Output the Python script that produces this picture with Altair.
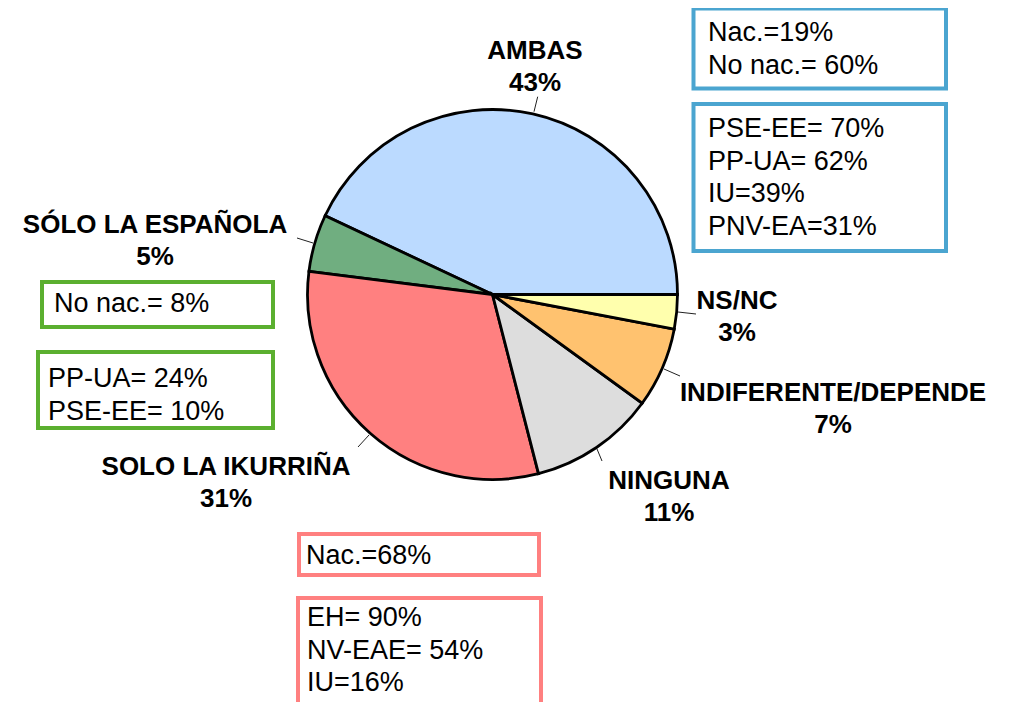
import math
import altair as alt
import pandas as pd

# ---- data ----
categories = ["AMBAS", "SÓLO LA ESPAÑOLA", "SOLO LA IKURRIÑA", "NINGUNA",
              "INDIFERENTE/DEPENDE", "NS/NC"]
values = [43, 5, 31, 11, 7, 3]
# clockwise order starting at 3 o'clock
clock_order = [5, 4, 3, 2, 1, 0]
colors = ["#BBDAFF", "#70AE80", "#FF8080", "#DDDDDD", "#FFC26F", "#FFFFAD"]

box_texts = [
    "Nac.=19%\nNo nac.= 60%",
    "PSE-EE= 70%\nPP-UA= 62%\nIU=39%\nPNV-EA=31%",
    "No nac.= 8%",
    "PP-UA= 24%\nPSE-EE= 10%",
    "Nac.=68%",
    "EH= 90%\nNV-EAE= 54%\nIU=16%",
]
box_colors = ["#4BA5D0", "#4BA5D0", "#5BAF2F", "#5BAF2F", "#FF8080", "#FF8080"]

# ---- layout (page pixel coordinates) ----
M = 8  # page margin
CX, CY, R = 492.5, 294.5, 185
label_pos = [(535, 59), (155, 233), (226, 475), (669, 489), (833, 401), (737, 309)]
leader = [((537.7, 96.7), (534, 111.7)), ((297, 238), (313, 243)),
          ((358, 447), (369, 435)), ((602, 461), (597, 449)),
          ((680, 376), (664, 369)), ((696, 314), (678, 312))]
box_rect = [(693.5, 8.5, 946, 88.5), (693.5, 104, 946, 251),
            (42, 282, 273, 327), (38, 352, 273, 428),
            (299, 534, 539, 575), (298, 598, 541, 712)]
box_text_pos = [(708, 41), (708, 137), (54, 312), (48, 387), (306, 564), (307, 626)]

pie_df = pd.DataFrame({"cat": categories, "value": values, "order": clock_order})

lab_df = pd.DataFrame({
    "label": [f"{c}\n{v}%" for c, v in zip(categories, values)],
    "x": [p[0] - M for p in label_pos],
    "y": [p[1] - M for p in label_pos],
})
lead_df = pd.DataFrame({
    "x": [a[0] - M for a, b in leader], "y": [a[1] - M for a, b in leader],
    "x2": [b[0] - M for a, b in leader], "y2": [b[1] - M for a, b in leader],
})
box_df = pd.DataFrame({
    "x": [r[0] - M for r in box_rect], "y": [r[1] - M for r in box_rect],
    "x2": [r[2] - M for r in box_rect], "y2": [r[3] - M for r in box_rect],
    "col": box_colors,
})
btxt_df = pd.DataFrame({
    "t": box_texts,
    "x": [p[0] - M for p in box_text_pos],
    "y": [p[1] - M for p in box_text_pos],
})

FONT = "Liberation Sans, Arial"

pie = alt.Chart(pie_df).mark_arc(outerRadius=R, stroke="black", strokeWidth=2.8).encode(
    theta=alt.Theta("value:Q", stack=True,
                    scale=alt.Scale(range=[math.pi / 2, math.pi / 2 + 2 * math.pi])),
    order=alt.Order("order:Q", sort="ascending"),
    color=alt.Color("cat:N", scale=alt.Scale(domain=categories, range=colors), legend=None),
    x=alt.value(CX - M),
    y=alt.value(CY - M),
)

leaders = alt.Chart(lead_df).mark_rule(color="#222222", strokeWidth=1).encode(
    x=alt.X("x:Q", scale=None), y=alt.Y("y:Q", scale=None),
    x2="x2:Q", y2="y2:Q",
)

labels = alt.Chart(lab_df).mark_text(
    font=FONT, fontSize=26, fontWeight="bold", align="center", baseline="alphabetic",
    lineBreak="\n", lineHeight=31.5, color="black",
).encode(x=alt.X("x:Q", scale=None), y=alt.Y("y:Q", scale=None), text="label:N")

boxes = alt.Chart(box_df).mark_rect(fill="white", fillOpacity=0, strokeWidth=4).encode(
    x=alt.X("x:Q", scale=None), y=alt.Y("y:Q", scale=None),
    x2="x2:Q", y2="y2:Q",
    stroke=alt.Stroke("col:N", scale=None),
)

btext = alt.Chart(btxt_df).mark_text(
    font=FONT, fontSize=27, align="left", baseline="alphabetic",
    lineBreak="\n", lineHeight=32.5, color="black",
).encode(x=alt.X("x:Q", scale=None), y=alt.Y("y:Q", scale=None), text="t:N")

chart = alt.layer(pie, leaders, labels, boxes, btext).properties(
    width=998, height=700, padding=0,
    autosize=alt.AutoSizeParams(type="none"),
    background="white",
).configure_view(stroke=None)

chart.save("out.html", embed_options={"renderer": "svg", "actions": False})
